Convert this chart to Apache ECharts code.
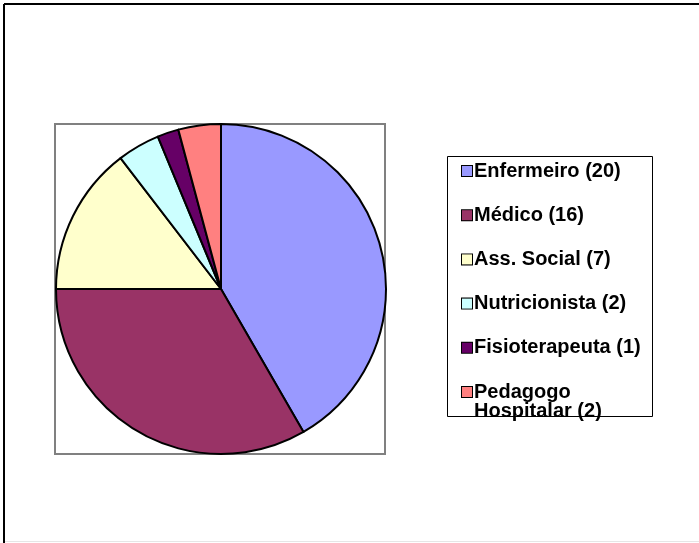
<!DOCTYPE html>
<html>
<head>
<meta charset="utf-8">
<script src="https://cdn.jsdelivr.net/npm/echarts@6/dist/echarts.min.js"></script>
<style>
  html, body { margin: 0; padding: 0; background: #fff; }
  #chart { width: 699px; height: 543px; }
</style>
</head>
<body>
<div id="chart"></div>
<script>
(function () {
  const categories = ['Enfermeiro', 'Médico', 'Ass. Social', 'Nutricionista', 'Fisioterapeuta', 'Pedagogo Hospitalar'];
  const counts = [20, 16, 7, 2, 1, 2];
  const colors = ['#9999FF', '#993366', '#FFFFCC', '#CCFFFF', '#660066', '#FF8080'];

  const font = 'Liberation Sans, Arial, sans-serif';

  const legendText = (name, value) => {
    const full = name + ' (' + value + ')';
    if (full.length <= 19) return [full];
    const cut = full.indexOf(' ');
    return [full.slice(0, cut), full.slice(cut + 1)];
  };

  const rich = {
    t: { fontSize: 20, fontWeight: 'bold', fontFamily: font, color: '#000', lineHeight: 19, padding: [0, 0, 0, 2] },
    h: { fontSize: 20, fontWeight: 'bold', fontFamily: font, color: '#000', lineHeight: 19, padding: [0, 0, 0, 12] },
  };
  colors.forEach((c, i) => {
    rich['s' + i] = { width: 10, height: 10, backgroundColor: c, borderColor: '#000', borderWidth: 1, lineHeight: 19 };
  });

  const chart = echarts.init(document.getElementById('chart'), null, { renderer: 'canvas' });

  chart.setOption({
    animation: false,
    backgroundColor: '#fff',
    color: colors,
    graphic: [
      // outer chart frame (only top/left visible in the crop)
      { type: 'line', z: 0, shape: { x1: 4, y1: 4, x2: 699, y2: 4 }, style: { stroke: '#000', lineWidth: 2 } },
      { type: 'line', z: 0, shape: { x1: 4, y1: 4, x2: 4, y2: 543 }, style: { stroke: '#000', lineWidth: 2 } },
      { type: 'line', z: 0, shape: { x1: 5, y1: 541.5, x2: 699, y2: 541.5 }, style: { stroke: '#e6e6e6', lineWidth: 1 } },
      // plot area
      { type: 'rect', z: 0, shape: { x: 55, y: 124, width: 330, height: 330 }, style: { fill: '#fff', stroke: '#808080', lineWidth: 2 } },
      // legend box
      { type: 'rect', z: 0, shape: { x: 447.5, y: 156.5, width: 205, height: 260 }, style: { fill: '#fff', stroke: '#000', lineWidth: 1 } },
    ],
    legend: {
      orient: 'vertical',
      left: 457,
      top: 161,
      padding: 0,
      itemGap: 24.2,
      itemWidth: 0,
      itemHeight: 10,
      icon: 'none',
      selectedMode: false,
      data: categories,
      formatter: (name) => {
        const i = categories.indexOf(name);
        const lines = legendText(name, counts[i]);
        let s = '{s' + i + '|}{t|' + lines[0] + '}';
        if (lines[1]) s += '\n{h|' + lines[1] + '}';
        return s;
      },
      textStyle: { rich },
    },
    series: [
      {
        type: 'pie',
        center: [221, 289],
        radius: 165,
        startAngle: 90,
        clockwise: true,
        label: { show: false },
        labelLine: { show: false },
        itemStyle: { borderColor: '#000', borderWidth: 2 },
        emphasis: { disabled: true },
        data: categories.map((name, i) => ({ name, value: counts[i] })),
      },
    ],
  });

  window.addEventListener('resize', () => chart.resize());
})();
</script>
</body>
</html>
